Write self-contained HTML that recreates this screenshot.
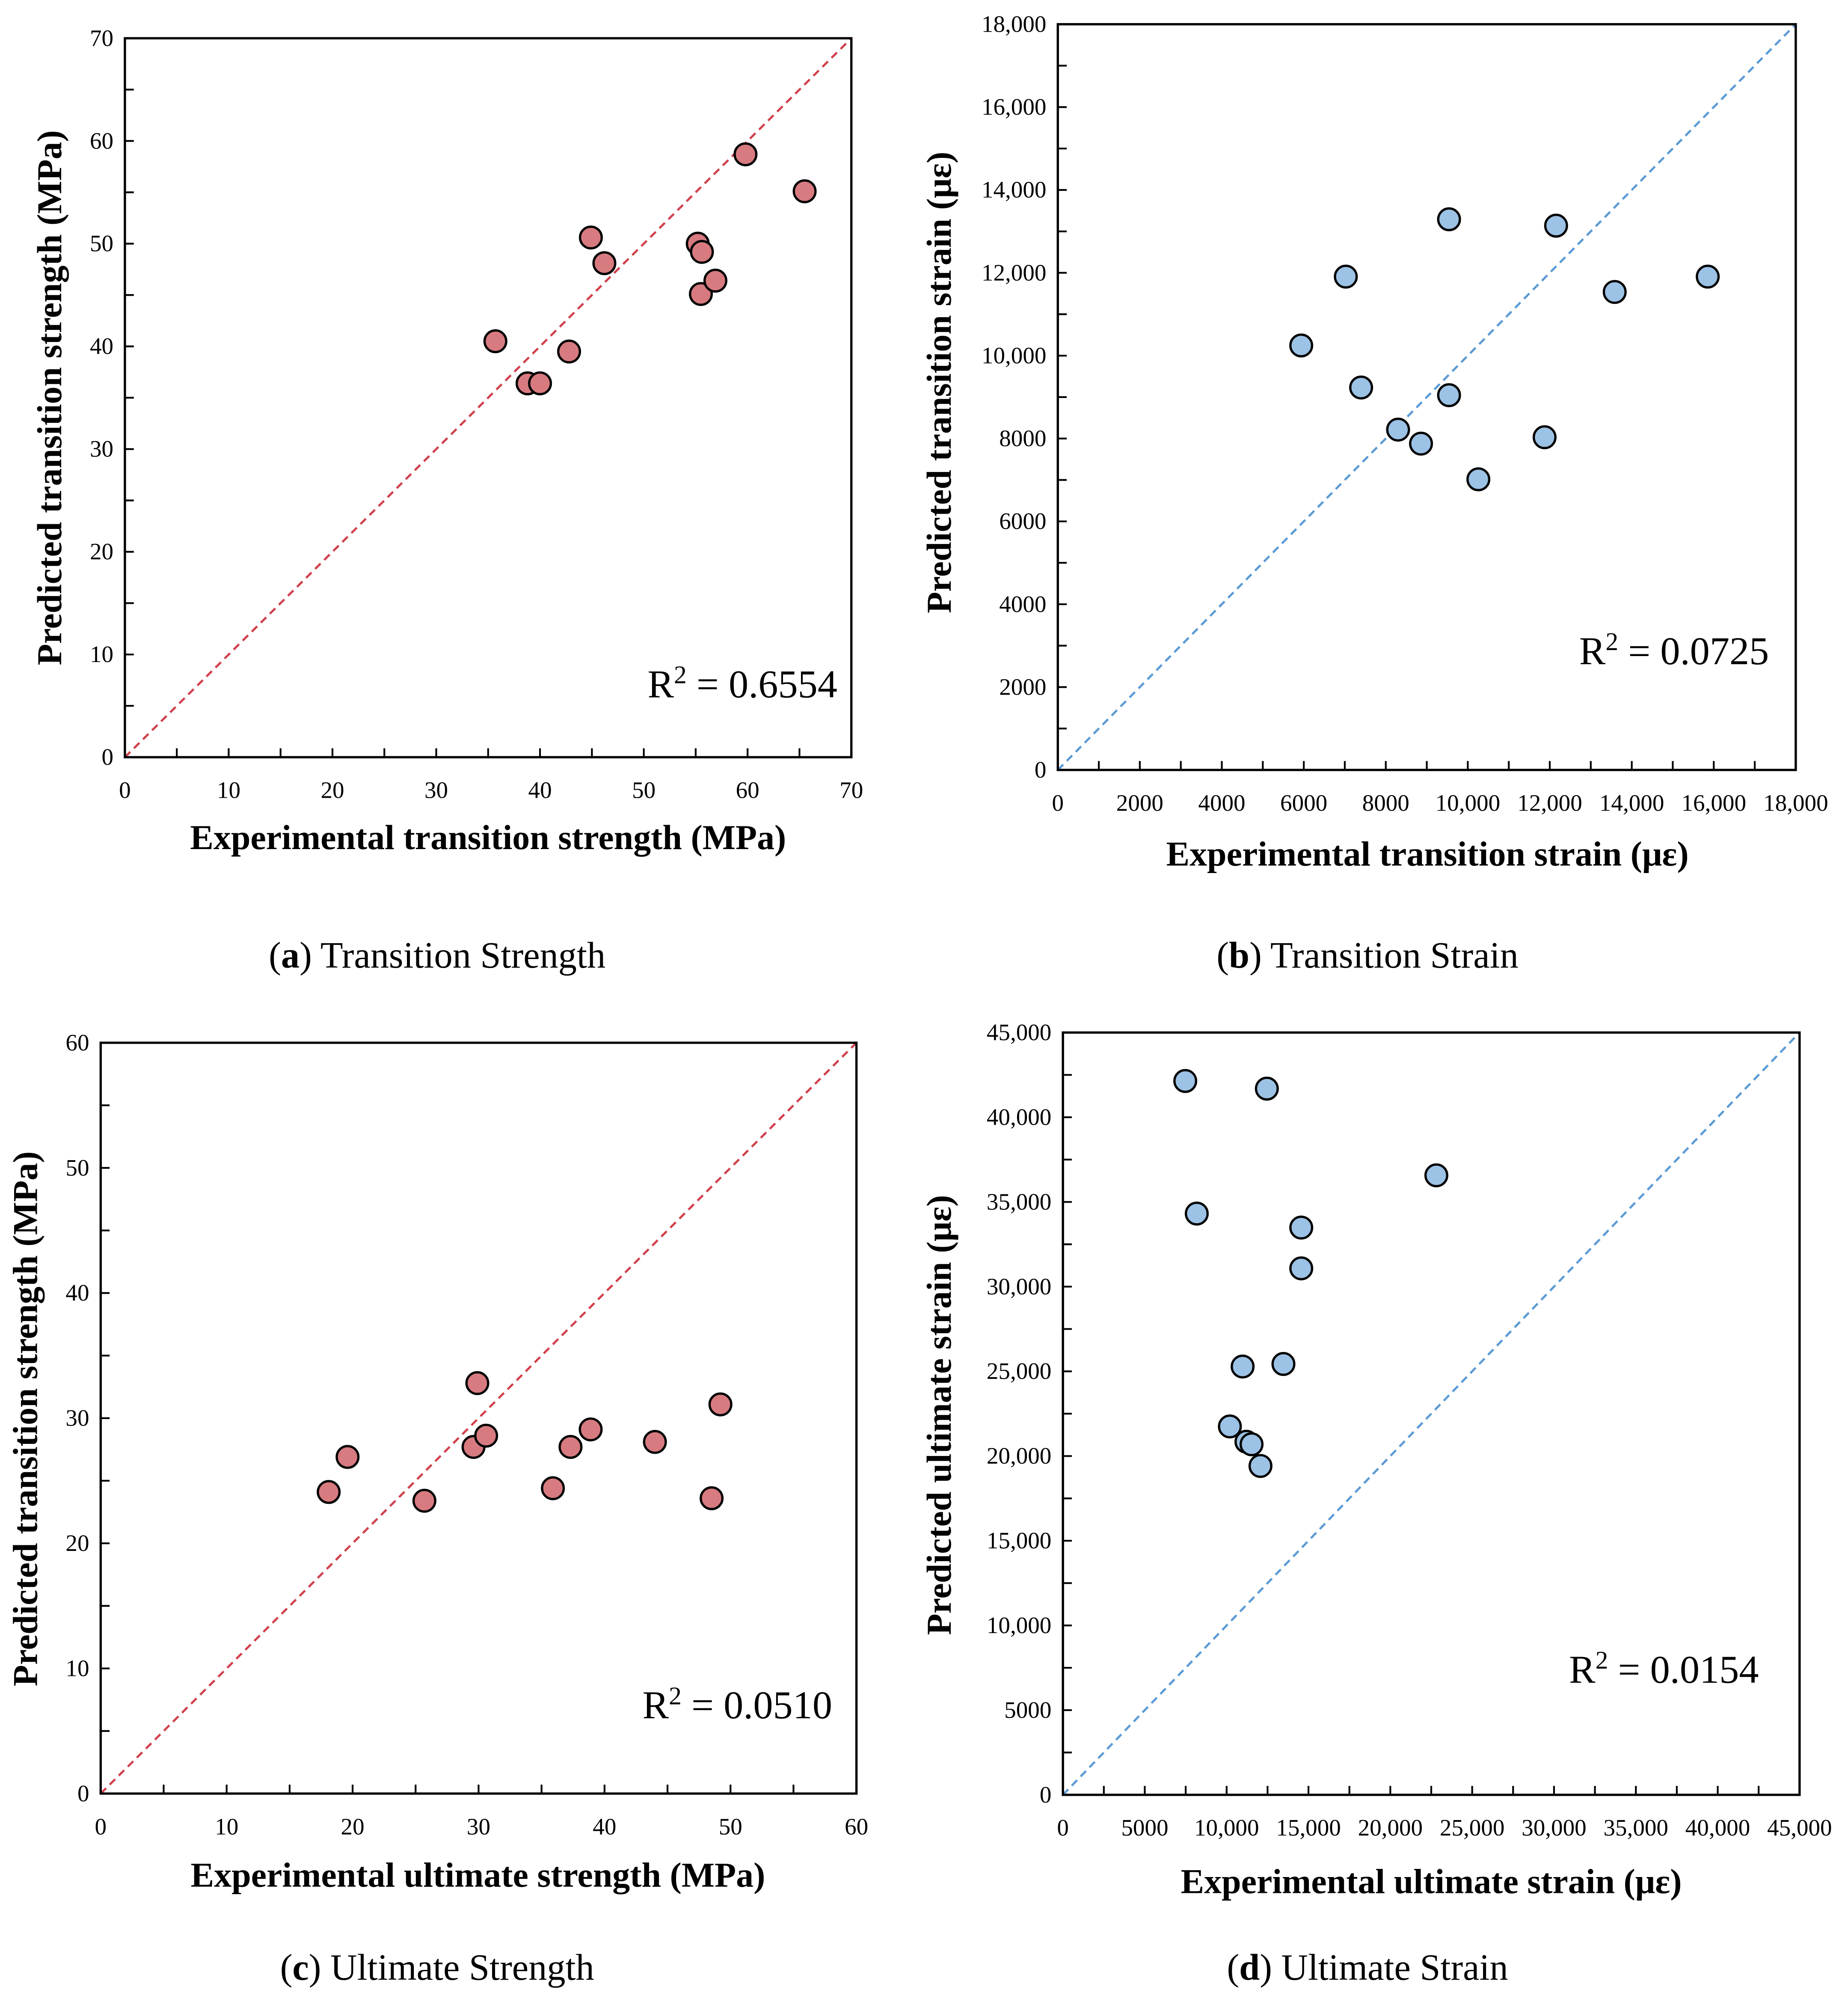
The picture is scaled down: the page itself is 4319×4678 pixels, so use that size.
<!DOCTYPE html>
<html><head><meta charset="utf-8"><style>
html,body{margin:0;padding:0;background:#fff;}
svg{display:block;font-family:"Liberation Serif",serif;}
svg text{font-family:"Liberation Serif",serif;}
</style></head><body>
<svg id="fig" width="4319" height="4678" viewBox="0 0 1450 1570.5" xmlns="http://www.w3.org/2000/svg" font-family="Liberation Serif, serif">
<rect width="1450" height="1570.5" fill="#fff"/>
</svg>
<script>
// Panel (a) data
const aX = [35.7, 38.8, 40.0, 42.8, 44.9, 46.2, 55.2, 55.6, 55.5, 56.9, 59.8, 65.5];
const aY = [40.5, 36.4, 36.4, 39.5, 50.6, 48.1, 50.0, 49.2, 45.1, 46.4, 58.7, 55.1];
const aTicks = [0, 10, 20, 30, 40, 50, 60, 70];
const aTickLabels = ["0", "10", "20", "30", "40", "50", "60", "70"];
// Panel (b) data
const bX = [5937, 7025, 7398, 8300, 8859, 9543, 9543, 10258, 11874, 12154, 13584, 15853];
const bY = [10246, 11908, 9231, 8215, 7877, 13292, 9046, 7015, 8031, 13138, 11538, 11908];
const bTicks = [0, 2000, 4000, 6000, 8000, 10000, 12000, 14000, 16000, 18000];
const bTickLabelsX = ["0", "2000", "4000", "6000", "8000", "10,000", "12,000", "14,000", "16,000", "18,000"];
const bTickLabelsY = ["0", "2000", "4000", "6000", "8000", "10,000", "12,000", "14,000", "16,000", "18,000"];
// Panel (c) data
const cX = [18.1, 19.6, 25.7, 29.6, 29.9, 30.6, 35.9, 37.3, 38.9, 44.0, 48.5, 49.2];
const cY = [24.1, 26.9, 23.4, 27.7, 32.8, 28.6, 24.4, 27.7, 29.1, 28.1, 23.6, 31.1];
const cTicks = [0, 10, 20, 30, 40, 50, 60];
const cTickLabels = ["0", "10", "20", "30", "40", "50", "60"];
// Panel (d) data
const dX = [7474, 12457, 8175, 22812, 14559, 14559, 10978, 13470, 10199, 11211, 11523, 12068];
const dY = [42140, 41689, 34314, 36571, 33487, 31079, 25284, 25435, 21747, 20844, 20694, 19415];
const dTicks = [0, 5000, 10000, 15000, 20000, 25000, 30000, 35000, 40000, 45000];
const dTickLabels = ["0", "5000", "10,000", "15,000", "20,000", "25,000", "30,000", "35,000", "40,000", "45,000"];

const NS = "http://www.w3.org/2000/svg";
const svg = document.getElementById("fig");
function mk(tag, attrs, parent, text) {
  const e = document.createElementNS(NS, tag);
  for (const k in attrs) e.setAttribute(k, attrs[k]);
  if (text !== undefined) e.textContent = text;
  parent.appendChild(e);
  return e;
}

function panel(p) {
  const g = mk("g", {}, svg);
  
  
  const L = p.box[0], T = p.box[1], R = p.box[2], B = p.box[3];
  const max = p.ticks[p.ticks.length - 1];
  const sx = v => L + (v / max) * (R - L);
  const sy = v => B - (v / max) * (B - T);
  const diag = mk("line", {x1: sx(0), y1: sy(0), x2: sx(max), y2: sy(max), stroke: p.line, "stroke-width": 1.7, "stroke-dasharray": "6,4"}, g);
  
  
  const fr = mk("rect", {x: L, y: T, width: R - L, height: B - T, fill: "none", stroke: "#000", "stroke-width": 1.8}, g);
  
  
  const step = p.ticks[1] - p.ticks[0];
  for (let v = 0; v <= max + 1e-9; v += step / 2) {
    mk("line", {x1: sx(v), y1: B, x2: sx(v), y2: B - 7, stroke: "#000", "stroke-width": 1.4}, g);
    mk("line", {x1: L, y1: sy(v), x2: L + 7, y2: sy(v), stroke: "#000", "stroke-width": 1.4}, g);
  }
  p.ticks.forEach((v, i) => {
    const tx = mk("text", {x: sx(v), y: B + 32, "text-anchor": "middle", "font-size": 18.5}, g, p.lx[i]);
    
    
    const ty = mk("text", {x: L - 9, y: sy(v) + 6, "text-anchor": "end", "font-size": 18.5}, g, p.ly[i]);
    
    
  });
  p.xs.forEach((xv, i) => {
    const c = mk("circle", {cx: sx(xv), cy: sy(p.ys[i]), r: 8.5, fill: p.fill, stroke: "#000", "stroke-width": 1.8}, g);
    
    
  });
  const xt = mk("text", {x: p.xt[0], y: p.xt[1], "text-anchor": "middle", "font-size": 27.5, "font-weight": "bold"}, g, p.xtitle);
  
  
  const yt = mk("text", {x: 0, y: 0, "text-anchor": "middle", "font-size": 27.5, "font-weight": "bold", transform: "translate(" + p.yt[0] + "," + p.yt[1] + ") rotate(-90)"}, g, p.ytitle);
  
  
  const r2 = mk("text", {x: p.r2[0], y: p.r2[1], "text-anchor": "end", "font-size": 31}, g);
  
  
  mk("tspan", {}, r2, "R");
  mk("tspan", {"font-size": 20, dy: -11}, r2, "2");
  mk("tspan", {dy: 11}, r2, " = " + p.r2t);
  const cap = mk("text", {x: p.cap[0], y: p.cap[1], "text-anchor": "middle", "font-size": 29}, g);
  
  
  mk("tspan", {}, cap, "(");
  mk("tspan", {"font-weight": "bold"}, cap, p.letter);
  mk("tspan", {}, cap, ") " + p.captxt);
}

panel({id: "a", box: [98, 30, 668, 594], ticks: aTicks, lx: aTickLabels, ly: aTickLabels, xs: aX, ys: aY,
  fill: "#d77b80", line: "#d0414c", xtitle: "Experimental transition strength (MPa)", xt: [383, 666],
  ytitle: "Predicted transition strength (MPa)", yt: [48, 312], r2: [657, 547], r2t: "0.6554",
  cap: [343, 759], letter: "a", captxt: "Transition Strength"});
panel({id: "b", box: [830, 19, 1409, 604], ticks: bTicks, lx: bTickLabelsX, ly: bTickLabelsY, xs: bX, ys: bY,
  fill: "#9cc2e5", line: "#5b9bd5", xtitle: "Experimental transition strain (\u03bc\u03b5)", xt: [1120, 679],
  ytitle: "Predicted transition strain (\u03bc\u03b5)", yt: [746, 300], r2: [1388, 521], r2t: "0.0725",
  cap: [1073, 759], letter: "b", captxt: "Transition Strain"});
panel({id: "c", box: [79, 818, 672, 1407], ticks: cTicks, lx: cTickLabels, ly: cTickLabels, xs: cX, ys: cY,
  fill: "#d77b80", line: "#d0414c", xtitle: "Experimental ultimate strength (MPa)", xt: [375, 1480],
  ytitle: "Predicted transition strength (MPa)", yt: [29, 1113], r2: [653, 1348], r2t: "0.0510",
  cap: [343, 1553], letter: "c", captxt: "Ultimate Strength"});
panel({id: "d", box: [834, 810, 1412, 1408], ticks: dTicks, lx: dTickLabels, ly: dTickLabels, xs: dX, ys: dY,
  fill: "#9cc2e5", line: "#5b9bd5", xtitle: "Experimental ultimate strain (\u03bc\u03b5)", xt: [1123, 1485],
  ytitle: "Predicted ultimate strain (\u03bc\u03b5)", yt: [746, 1110], r2: [1380, 1320], r2t: "0.0154",
  cap: [1073, 1553], letter: "d", captxt: "Ultimate Strain"});
</script>
</body></html>
